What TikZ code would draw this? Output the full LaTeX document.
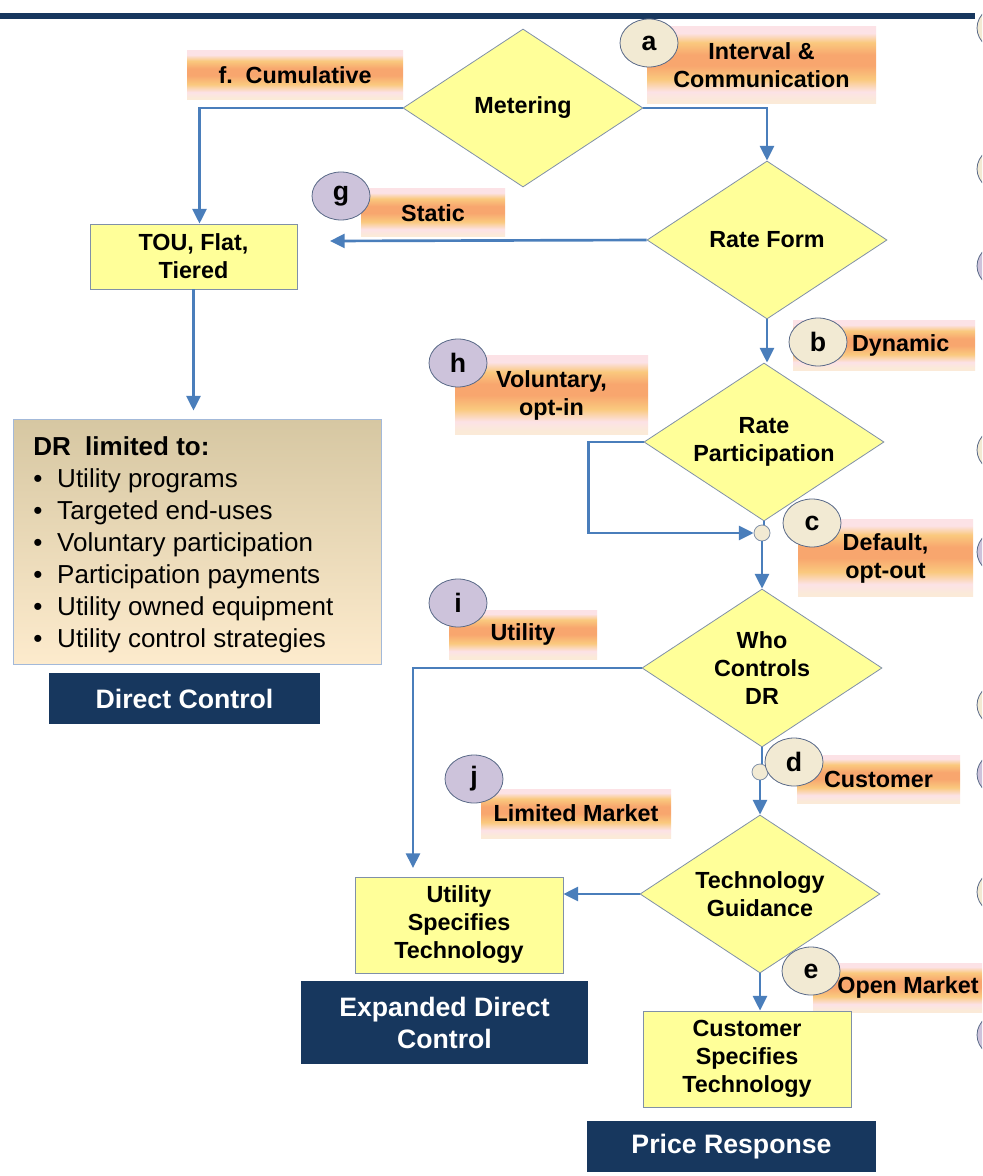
\documentclass[tikz,border=0pt]{standalone}
\usepackage{fontspec}
\setmainfont{Liberation Sans}
\usetikzlibrary{shapes.geometric,arrows.meta}
\definecolor{navy}{HTML}{17375E}
\definecolor{fyel}{HTML}{FFFF99}
\definecolor{bord}{HTML}{8090A8}
\definecolor{conn}{HTML}{4A7EBB}
\definecolor{lorange}{HTML}{F8A66E}
\definecolor{lyel}{HTML}{FAC97E}
\definecolor{lpink}{HTML}{FCE2E6}
\definecolor{lcream}{HTML}{FBEAD8}
\definecolor{bcream}{HTML}{F2EAD3}
\definecolor{bpurple}{HTML}{CDC3DB}
\definecolor{bubbord}{HTML}{5A6A88}
\definecolor{drtop}{HTML}{D6C7A2}
\definecolor{drbot}{HTML}{FDEBCD}
\definecolor{drbord}{HTML}{A3B9D9}
\pgfdeclareverticalshading{lblshade}{100bp}{color(0bp)=(lcream); color(27bp)=(lcream); color(33bp)=(lpink); color(41bp)=(lyel); color(50bp)=(lorange); color(57bp)=(lorange); color(65bp)=(lyel); color(71bp)=(lpink); color(100bp)=(lpink)}
\tikzset{
  base/.style={font=\bfseries\fontsize{17.5}{21}\selectfont, align=center, inner sep=0pt},
  dia/.style={base, diamond, aspect=1.52, draw=bord, line width=0.6pt, fill=fyel, minimum width=180pt, minimum height=118.5pt},
  ybox/.style={base, rectangle, draw=bord, line width=0.6pt, fill=fyel},
  navybox/.style={base, rectangle, fill=navy, text=white, font=\bfseries\fontsize{20}{24}\selectfont},
  lbl/.style={base, rectangle, shading=lblshade},
  cbub/.style={base, ellipse, draw=bubbord, line width=0.6pt, fill=bcream, minimum width=43.5pt, minimum height=36pt, font=\bfseries\fontsize{20}{24}\selectfont},
  pbub/.style={cbub, fill=bpurple},
  jnc/.style={circle, draw=bord, line width=0.6pt, fill=bcream, minimum size=12pt, inner sep=0pt},
  conn/.style={draw=conn, line width=2pt},
  arr/.style={conn, -{Triangle[length=11pt,width=10.5pt]}}
}
\begin{document}
\begin{tikzpicture}[x=0.75pt,y=-0.75pt]
\clip (0,0) rectangle (982,1176);
\fill[white] (0,0) rectangle (982,1176);
\draw[navy, line width=3.8pt] (0,16) -- (975,16);

% labels
\node[lbl, minimum width=162pt, minimum height=36.75pt] (lf) at (295,75.5) {f.\ \ Cumulative};
\node[lbl, minimum width=171.75pt, minimum height=57.75pt] (la) at (761.5,65.5) {Interval \&\\Communication};
\node[lbl, minimum width=108pt, minimum height=36pt] (lg) at (433,213) {Static};
\node[lbl, minimum width=136.5pt, minimum height=36.75pt] (lb) at (884,345.5) {\hspace*{25pt}Dynamic};
\node[lbl, minimum width=144.75pt, minimum height=58.5pt] (lh) at (551.5,395) {Voluntary,\\opt-in};
\node[lbl, minimum width=131.25pt, minimum height=57.75pt] (lc) at (885.5,558) {Default,\\opt-out};
\node[lbl, minimum width=111pt, minimum height=36.75pt] (li) at (523,634.5) {Utility};
\node[lbl, minimum width=122.25pt, minimum height=36pt] (ld) at (878.5,779) {Customer};
\node[lbl, minimum width=142.5pt, minimum height=36.75pt] (lj) at (576,813.5) {Limited Market};
\node[lbl, minimum width=142.5pt, minimum height=36.75pt] (le) at (908,987.5) {Open Market};

% diamonds
\node[dia] (met) at (523,108) {Metering};
\node[dia] (rf) at (767,240) {Rate Form};
\node[dia] (rp) at (764,442) {Rate\\Participation};
\node[dia] (wc) at (762,668) {Who\\Controls\\DR};
\node[dia] (tg) at (760,894) {Technology\\Guidance};

% boxes
\node[ybox, minimum width=155.25pt, minimum height=48.75pt] (tou) at (193.5,256.5) {TOU, Flat,\\Tiered};
\node[ybox, minimum width=156pt, minimum height=72pt] (usp) at (459,925) {Utility\\Specifies\\Technology};
\node[ybox, minimum width=156pt, minimum height=72pt] (csp) at (747,1059) {Customer\\Specifies\\Technology};
\node[rectangle, draw=drbord, line width=0.6pt, top color=drtop, bottom color=drbot, minimum width=276pt, minimum height=183.75pt, inner sep=0pt] (dr) at (197,541.5) {};
\node[anchor=north west, align=left, inner sep=0pt, font=\fontsize{19.5}{24}\selectfont] (drtext) at (33,436)
  {{\bfseries DR\ \ limited to:}\\
   \makebox[18pt][l]{•}Utility programs\\
   \makebox[18pt][l]{•}Targeted end-uses\\
   \makebox[18pt][l]{•}Voluntary participation\\
   \makebox[18pt][l]{•}Participation payments\\
   \makebox[18pt][l]{•}Utility owned equipment\\
   \makebox[18pt][l]{•}Utility control strategies};
\node[navybox, minimum width=203.25pt, minimum height=38.25pt] (ndc) at (184.5,698.5) {Direct Control};
\node[navybox, minimum width=215.25pt, minimum height=62.25pt] (nedc) at (444.5,1022.5) {Expanded Direct\\Control};
\node[navybox, minimum width=216.75pt, minimum height=38.25pt] (npr) at (731.5,1146.5) {Price Response};

% junctions
\node[jnc] (j1) at (762,533) {};
\node[jnc] (j2) at (760,772) {};

% connectors
\coordinate (stend) at (330,241);
\coordinate (uspin) at (413,868);
\draw[arr] (met.west) -| ([xshift=4.5pt]tou.north);
\draw[arr] (met.east) -| (rf.north);
\draw[arr] (rf.west) -- (stend);
\draw[arr, shorten >=6pt] (tou.south) -- (tou.south |- dr.north);
\draw[arr] (rf.south) -- (rf.south |- rp.north);
\draw[arr] (rp.west) -- ++(-55,0) |- (j1.west);
\draw[conn] (rp.south) -- (rp.south |- j1.north);
\draw[arr] (j1.south) -- (j1.south |- wc.north);
\draw[arr] (wc.west) -| (uspin);
\draw[conn] (wc.south) -- (wc.south |- j2.north);
\draw[arr] (j2.south) -- (j2.south |- tg.north);
\draw[arr] (tg.west) -- (tg.west -| usp.east);
\draw[arr] (tg.south) -- (tg.south |- csp.north);

% bubbles
\node[cbub] (ba) at (649,43) {a};
\node[cbub] (bb) at (818,342) {b};
\node[cbub] (bc) at (812,523) {c};
\node[cbub] (bd) at (794,762) {d};
\node[cbub] (be) at (811,971) {e};
\node[pbub] (bg) at (341,196) {g};
\node[pbub] (bh) at (458,363) {h};
\node[pbub] (bi) at (458,603) {i};
\node[pbub] (bj) at (474,779) {j};

% cut-off bubbles at right edge
\node[cbub] (r1) at (1006,28) {};
\node[cbub] (r2) at (1006,169) {};
\node[pbub] (r3) at (1006,266) {};
\node[cbub] (r4) at (1006,450) {};
\node[pbub] (r5) at (1006,552) {};
\node[cbub] (r6) at (1006,705) {};
\node[pbub] (r7) at (1006,774) {};
\node[cbub] (r8) at (1006,892) {};
\node[pbub] (r9) at (1006,1035) {};
\end{tikzpicture}
\end{document}
